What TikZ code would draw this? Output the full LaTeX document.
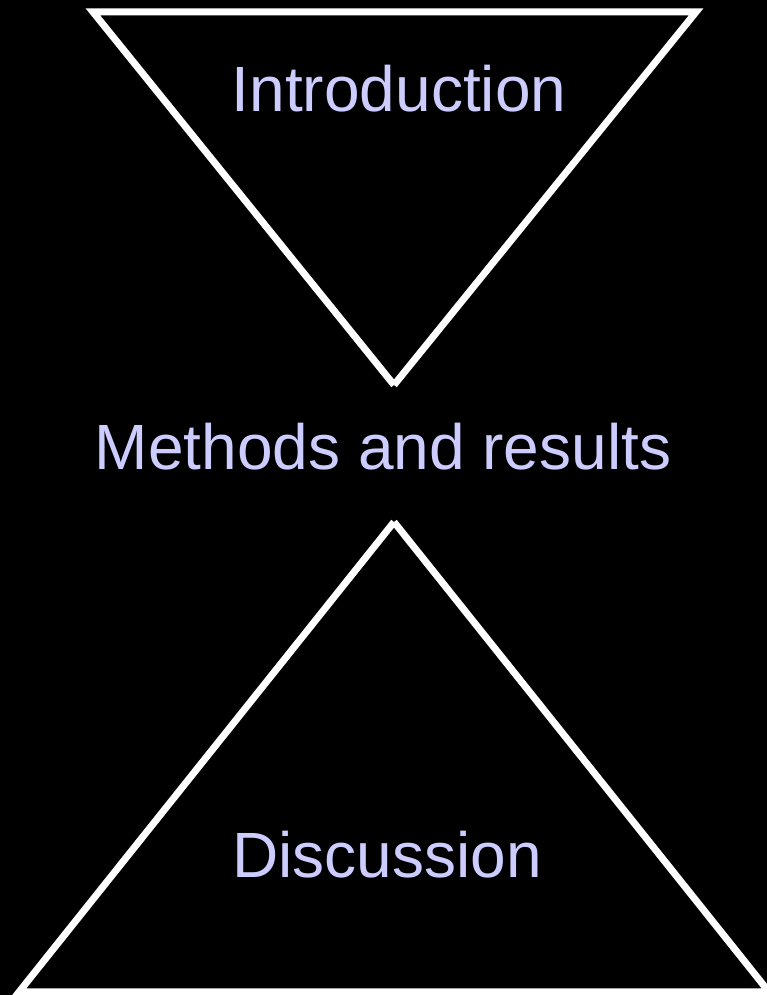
\documentclass[tikz,border=0pt]{standalone}
\usepackage{fontspec}
\setmainfont{Liberation Sans}
\definecolor{lav}{RGB}{204,204,255}
\begin{document}
\begin{tikzpicture}[x=1pt,y=1pt,
  tri/.style={draw=white,line width=7pt,line join=miter},
  lbl/.style={text=lav,font=\fontsize{64}{70}\selectfont,anchor=base,inner sep=0pt}]
\fill[black] (0,0) rectangle (767,995);
\useasboundingbox (0,0) rectangle (767,995);
\coordinate (t1) at (394,610);
\coordinate (t2) at (93,983);
\coordinate (t3) at (696,983);
\coordinate (b1) at (394,473);
\coordinate (b2) at (19,3);
\coordinate (b3) at (769,3);
\draw[tri] (t1) -- (t2) -- (t3) -- (t1);
\draw[tri] (b1) -- (b2) -- (b3) -- (b1);
\node[lbl] (intro) at (399,883) {Introduction};
\node[lbl] (meth) at (383,525) {Methods and results};
\node[lbl] (disc) at (387,117) {Discussion};
\end{tikzpicture}
\end{document}
